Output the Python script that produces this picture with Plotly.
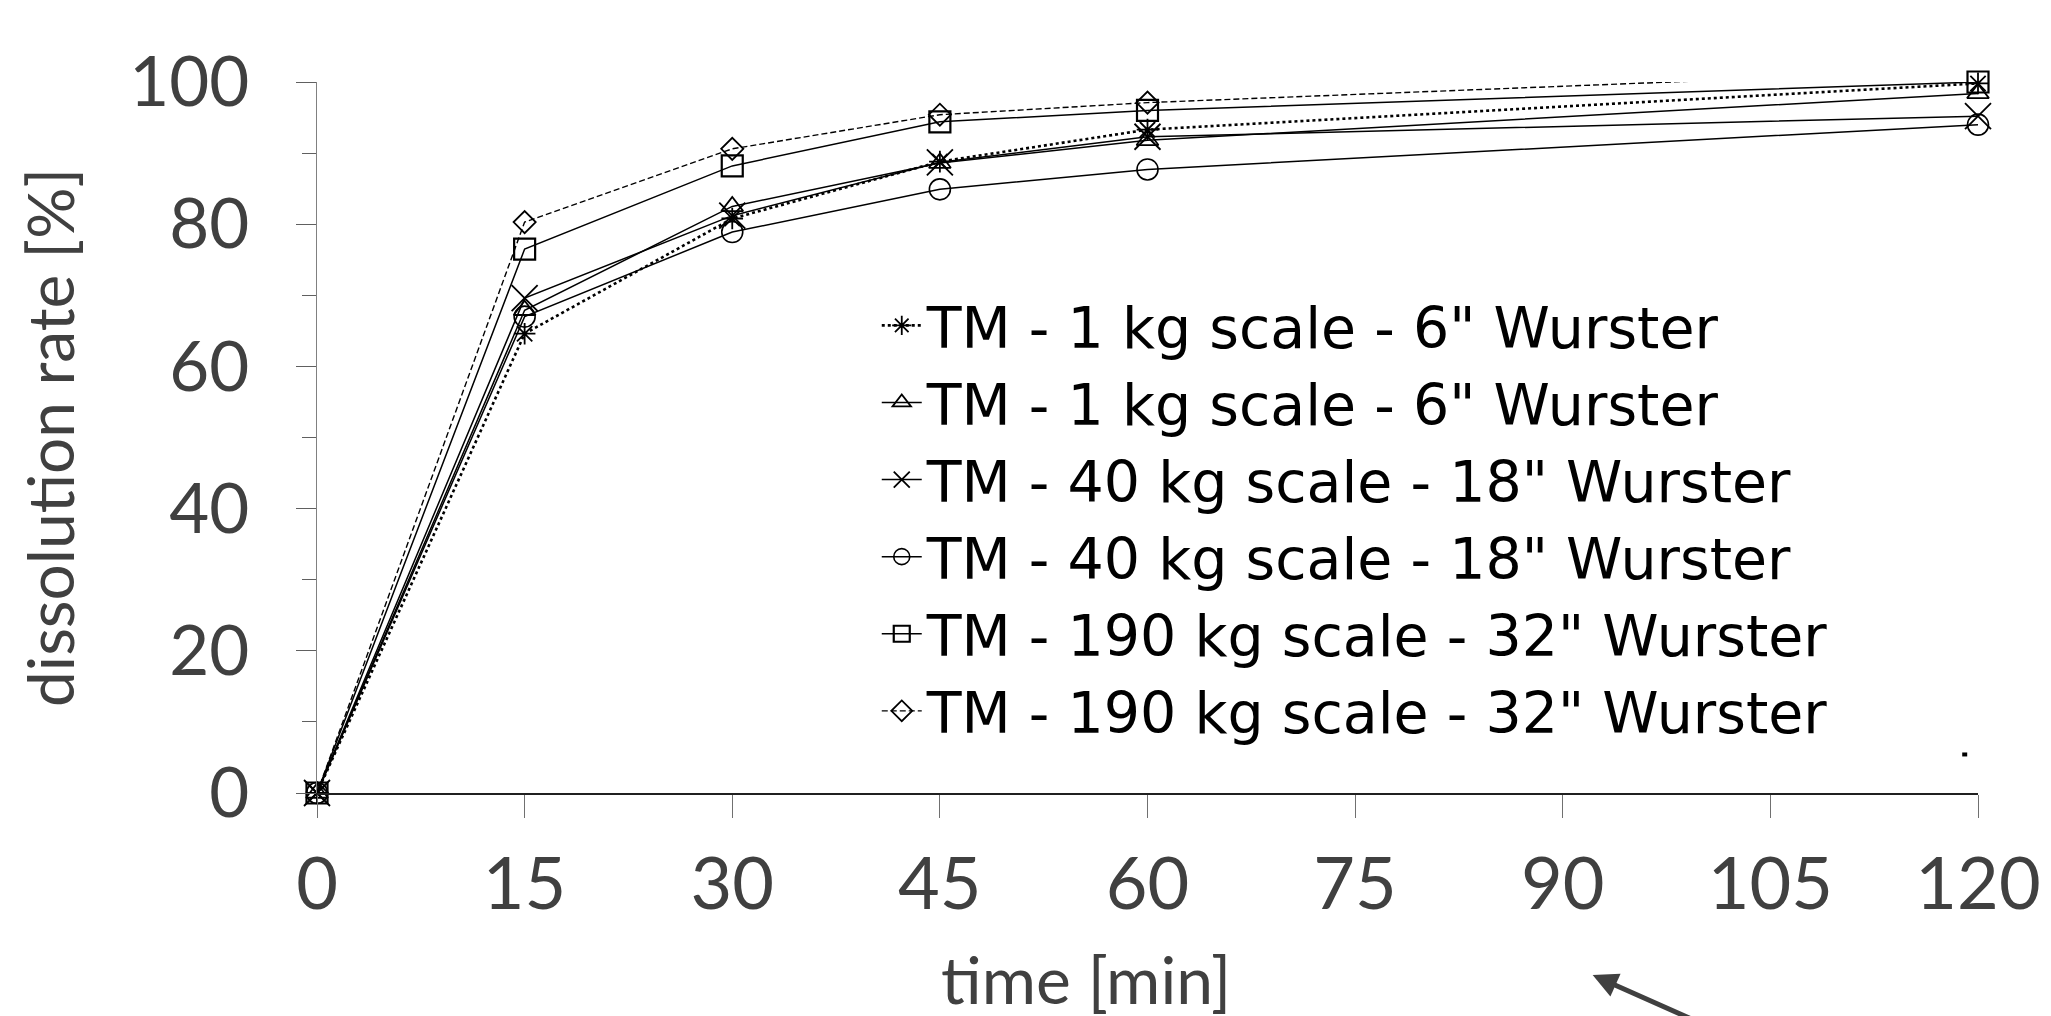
import plotly.graph_objects as go

# ---- data ----
time_min = [0, 15, 30, 45, 60, 120]
names = [
    'TM - 1 kg scale - 6" Wurster',
    'TM - 1 kg scale - 6" Wurster',
    'TM - 40 kg scale - 18" Wurster',
    'TM - 40 kg scale - 18" Wurster',
    'TM - 190 kg scale - 32" Wurster',
    'TM - 190 kg scale - 32" Wurster',
]
s1_asterisk = [0, 64.6, 80.8, 88.8, 93.3, 99.8]
s2_triangle = [0, 67.9, 82.5, 88.6, 91.8, 98.4]
s3_x = [0, 69.6, 81.2, 88.7, 92.3, 95.2]
s4_circle = [0, 67.0, 78.9, 84.9, 87.7, 94.0]
s5_square = [0, 76.5, 88.2, 94.4, 96.0, 100.0]
s6_diamond = [0, 80.3, 90.6, 95.4, 97.1, 101.7]

x_ticks = [0, 15, 30, 45, 60, 75, 90, 105, 120]
y_ticks = [0, 20, 40, 60, 80, 100]

# ---- styles ----
styles = [
    dict(values=s1_asterisk, symbol="asterisk-open", size=18, dash="dot", width=2.6, mlw=1.8, clip=False),
    dict(values=s2_triangle, symbol="triangle-up-open", size=19, dash="solid", width=1.5, mlw=1.8, clip=False),
    dict(values=s3_x, symbol="x-thin-open", size=26, dash="solid", width=1.5, mlw=1.8, clip=False),
    dict(values=s4_circle, symbol="circle-open", size=21, dash="solid", width=1.5, mlw=1.6, clip=False),
    dict(values=s5_square, symbol="square-open", size=21, dash="solid", width=1.5, mlw=2.2, clip=False),
    dict(values=s6_diamond, symbol="diamond-open", size=17, dash="6px,3px", width=1.4, mlw=1.8, clip=True),
]

fig = go.Figure()
for name, st in zip(names, styles):
    fig.add_trace(go.Scatter(
        x=time_min, y=st["values"], name=name, mode="lines+markers",
        line=dict(color="black", width=st["width"], dash=st["dash"]),
        marker=dict(symbol=st["symbol"], size=st["size"], color="black",
                    line=dict(color="black", width=st["mlw"])),
        cliponaxis=st["clip"],
    ))

gray = "#404040"
font_family = "Lato, Liberation Sans, Arial, sans-serif"
legend_family = "DejaVu Sans, Liberation Sans, sans-serif"

fig.update_layout(
    width=2051, height=1016,
    margin=dict(l=308.5, r=81.3, t=74.4, b=231),
    paper_bgcolor="white", plot_bgcolor="white",
    font=dict(family=font_family, color=gray),
    showlegend=True,
    legend=dict(
        x=0.337, y=0.719, xanchor="left", yanchor="top",
        font=dict(size=57, color="black", family=legend_family),
        bgcolor="rgba(0,0,0,0)", borderwidth=0,
        itemwidth=40,
    ),
    xaxis=dict(
        range=[0, 120], tickvals=x_ticks, ticktext=[str(v) for v in x_ticks],
        showgrid=False, zeroline=False,
        showline=True, linecolor="#202020", linewidth=1.5,
        ticks="outside", ticklen=23, tickwidth=1, tickcolor="#707070",
        tickfont=dict(size=72, color=gray),
        ticklabelstandoff=5,
    ),
    yaxis=dict(
        range=[0, 100], tickvals=y_ticks, ticktext=[str(v) for v in y_ticks],
        showgrid=False, zeroline=False,
        showline=True, linecolor="#808080", linewidth=1,
        ticks="outside", ticklen=20, tickwidth=1, tickcolor="#606060",
        minor=dict(dtick=10, ticks="outside", ticklen=14, tickcolor="#606060", tickwidth=1, showgrid=False),
        tickfont=dict(size=69, color=gray),
        ticklabelstandoff=33,
        title=dict(text="dissolution rate [%]", font=dict(size=64, color=gray), standoff=33),
    ),
)

# x-axis title (placed off-centre as in the source)
fig.add_annotation(
    x=0.463, y=-0.2604, xref="paper", yref="paper", xanchor="center", yanchor="middle",
    text="time [min]", showarrow=False, font=dict(size=66, color=gray, family=font_family),
)

# stray arrow and dot present in the source image
fig.add_annotation(
    x=0.768, y=-0.256, xref="paper", yref="paper",
    ax=110, ay=55, axref="pixel", ayref="pixel",
    showarrow=True, arrowhead=2, arrowsize=1, arrowwidth=5, arrowcolor="#404040", text="",
)
fig.add_shape(type="rect", xref="paper", yref="paper",
              x0=0.9905, x1=0.9935, y0=0.0514, y1=0.057,
              fillcolor="black", line=dict(width=0))

fig.write_html("out.html")
